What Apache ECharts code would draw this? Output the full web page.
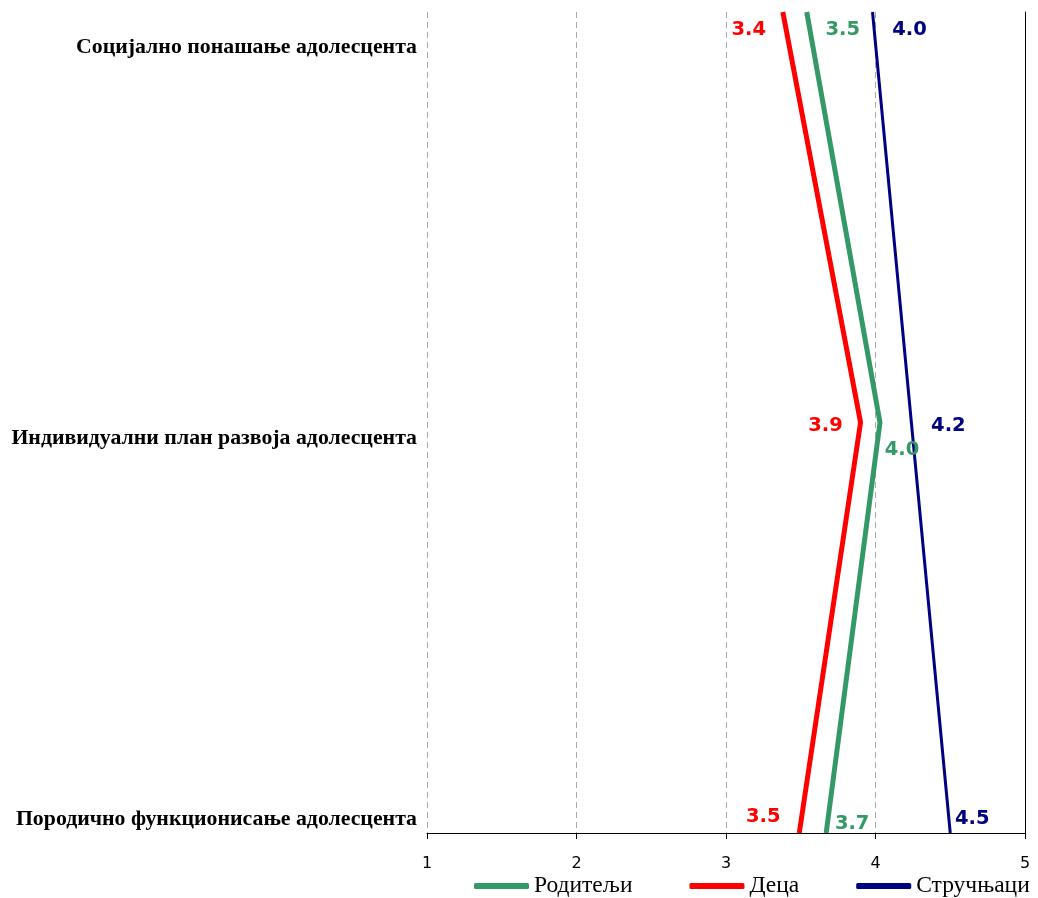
<!DOCTYPE html>
<html>
<head>
<meta charset="utf-8">
<script src="https://cdn.jsdelivr.net/npm/echarts@6/dist/echarts.min.js"></script>
<style>
  html, body { margin: 0; padding: 0; background: #fff; }
  #chart { width: 1038px; height: 898px; }
</style>
</head>
<body>
<div id="chart"></div>
<script>
  // categories, top to bottom
  var categories = ['Социјално понашање адолесцента', 'Индивидуални план развоја адолесцента', 'Породично функционисање адолесцента']
  var xTicks = [1, 2, 3, 4, 5]

  var parents = [3.54, 4.03, 3.67]   // Родитељи
  var children = [3.38, 3.90, 3.49]  // Деца
  var experts = [3.98, 4.24, 4.50]   // Стручњаци

  // label displacement from each point (px)
  var parentsOffsets = [[36, 18], [22, 27], [26, -9]]
  var childrenOffsets = [[-34, 18], [-35, 3], [-36, -16]]
  var expertsOffsets = [[37, 18], [37, 3], [22, -14]]

  function build (vals, offsets) {
    return vals.map(function (v, i) {
      return { value: [v, categories[i]], label: { offset: offsets[i] } }
    })
  }

  function series (name, vals, offsets, color, width) {
    return {
      name: name,
      type: 'line',
      data: build(vals, offsets),
      symbol: 'circle',
      symbolSize: 0.1,
      showSymbol: true,
      lineStyle: { color: color, width: width },
      itemStyle: { color: color },
      label: {
        show: true,
        position: 'inside',
        color: color,
        fontFamily: 'DejaVu Sans',
        fontWeight: 'bold',
        fontSize: 19.5,
        formatter: function (p) { return p.value[0].toFixed(1) }
      }
    }
  }

  var chart = echarts.init(document.getElementById('chart'))
  chart.setOption({
    animation: false,
    grid: { left: 427, right: 13, top: 12, bottom: 65 },
    legend: {
      top: 874,
      left: 474,
      right: 0,
      padding: 0,
      itemWidth: 55,
      itemHeight: 6,
      itemGap: 57,
      icon: 'roundRect',
      textStyle: { fontFamily: 'Liberation Serif', fontSize: 23.5, color: '#000' },
      data: ['Родитељи', 'Деца', 'Стручњаци']
    },
    xAxis: {
      type: 'value',
      min: 1,
      max: 5,
      interval: 1,
      axisLine: { show: true, lineStyle: { color: '#000', width: 1 } },
      axisTick: { show: true, length: 6, lineStyle: { color: '#000' } },
      axisLabel: {
        margin: 23,
        color: '#000',
        fontFamily: 'DejaVu Sans',
        fontSize: 16,
        formatter: function (v) { return xTicks.indexOf(v) >= 0 ? String(v) : '' }
      },
      splitLine: { show: true, lineStyle: { type: [6, 4], color: '#aaa', width: 1 } }
    },
    yAxis: [{
      type: 'category',
      inverse: true,
      boundaryGap: false,
      data: categories,
      axisLine: { show: false },
      axisTick: { show: false },
      splitLine: { show: false },
      axisLabel: {
        margin: 10,
        color: '#000',
        fontFamily: 'Liberation Serif',
        fontWeight: 'bold',
        fontSize: 21.8,
        formatter: function (v, i) { return '{c' + i + '|' + v + '}' },
        rich: {
          c0: { padding: [70, 0, 0, 0] },
          c1: { padding: [32, 0, 0, 0] },
          c2: { padding: [0, 0, 28, 0] }
        }
      }
    }, {
      type: 'category',
      inverse: true,
      boundaryGap: false,
      position: 'right',
      data: categories,
      axisLine: { show: true, lineStyle: { color: '#000', width: 1 } },
      axisTick: { show: false },
      axisLabel: { show: false },
      splitLine: { show: false }
    }],
    series: [
      series('Родитељи', parents, parentsOffsets, '#339966', 5),
      series('Деца', children, childrenOffsets, '#ff0000', 5),
      series('Стручњаци', experts, expertsOffsets, '#000080', 3)
    ]
  })
</script>
</body>
</html>
